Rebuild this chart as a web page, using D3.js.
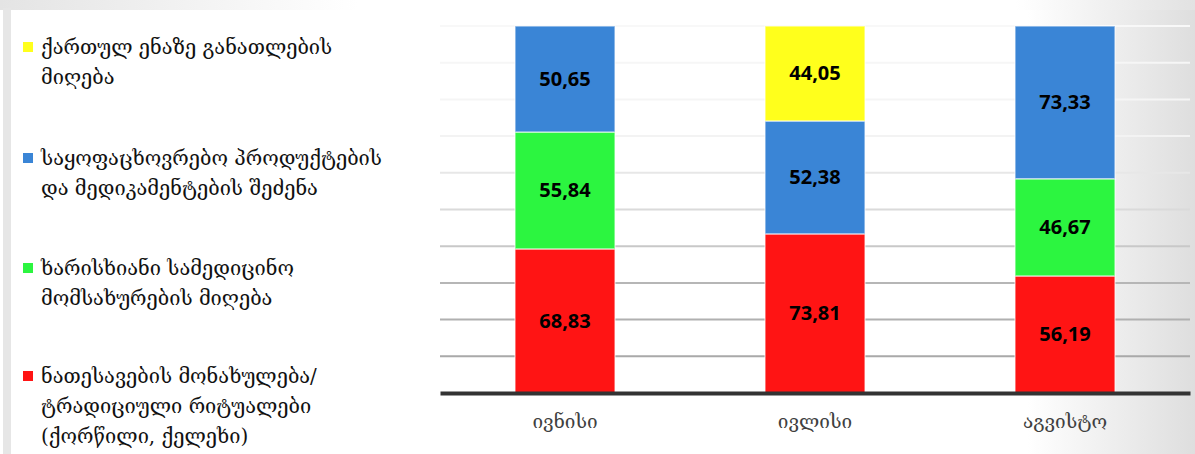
<!DOCTYPE html>
<html>
<head>
<meta charset="utf-8">
<script src="https://cdn.jsdelivr.net/npm/d3@7"></script>
<style>
  body { margin: 0; background: #fff; }
  svg { display: block; }
</style>
</head>
<body>
<svg id="chart"></svg>
<script>
// months on the x axis
var months = ["ივნისი", "ივლისი", "აგვისტო"];

// series, bottom to top of each stack
var seriesNames = [
    "ნათესავების მონახულება/ ტრადიციული რიტუალები (ქორწილი, ქელეხი)",
    "ხარისხიანი სამედიცინო მომსახურების მიღება",
    "საყოფაცხოვრებო პროდუქტების და მედიკამენტების შეძენა",
    "ქართულ ენაზე განათლების მიღება"
];
var redValues    = [68.83, 73.81, 56.19];
var greenValues  = [55.84, 0, 46.67];
var blueValues   = [50.65, 52.38, 73.33];
var yellowValues = [0, 44.05, 0];

// legend lines (wrapped as in the picture), top to bottom
var legendLines = [
    ["ქართულ ენაზე განათლების", "მიღება"],
    ["საყოფაცხოვრებო პროდუქტების", "და მედიკამენტების შეძენა"],
    ["ხარისხიანი სამედიცინო", "მომსახურების მიღება"],
    ["ნათესავების მონახულება/", "ტრადიციული რიტუალები", "(ქორწილი, ქელეხი)"]
];

var colors = ["#ff1414", "#2cf540", "#3a85d6", "#ffff1c"];
var keys = ["red", "green", "blue", "yellow"];

var georgianFont = "'DejaVu Serif', 'DejaVu Sans', serif";

var svgWidth = 1195, svgHeight = 454;

var svg = d3.select("#chart")
    .attr("width", svgWidth)
    .attr("height", svgHeight);

/*
    BACKGROUND
*/
var defs = svg.append("defs");
var bgGrad = defs.append("linearGradient").attr("id", "bgGrad")
    .attr("x1", "0").attr("x2", "1").attr("y1", "0").attr("y2", "0");
bgGrad.append("stop").attr("offset", "0.86").attr("stop-color", "#ffffff");
bgGrad.append("stop").attr("offset", "1").attr("stop-color", "#dedede");

var topGrad = defs.append("linearGradient").attr("id", "topGrad")
    .attr("x1", "0").attr("x2", "1").attr("y1", "0").attr("y2", "0");
topGrad.append("stop").attr("offset", "0").attr("stop-color", "#e4e4e4");
topGrad.append("stop").attr("offset", "0.3").attr("stop-color", "#ffffff");
topGrad.append("stop").attr("offset", "0.85").attr("stop-color", "#ffffff");
topGrad.append("stop").attr("offset", "1").attr("stop-color", "#e2e2e2");

svg.append("rect")
    .attr("width", svgWidth).attr("height", svgHeight)
    .attr("fill", "url(#bgGrad)");
svg.append("rect")
    .attr("width", svgWidth).attr("height", 10)
    .attr("fill", "url(#topGrad)");
svg.append("rect")
    .attr("x", 3).attr("y", 8).attr("width", 8).attr("height", svgHeight)
    .attr("fill", "#e6e6e6");

/*
    SCALES
*/
var margin = {left: 440, right: 5, top: 26, bottom: 61};
var plotW = svgWidth - margin.left - margin.right;
var plotH = svgHeight - margin.top - margin.bottom;

var xScale = d3.scaleBand()
    .domain(months)
    .range([0, plotW])
    .paddingInner(0.6)
    .paddingOuter(0.3);

var yScale = d3.scaleLinear()
    .domain([0, 1])
    .range([plotH, 0]);

var table = months.map(function(m, i) {
    return {month: m, red: redValues[i], green: greenValues[i],
            blue: blueValues[i], yellow: yellowValues[i]};
});

var stacked = d3.stack()
    .keys(keys)
    .offset(d3.stackOffsetExpand)(table);

var g = svg.append("g")
    .attr("transform", "translate(" + margin.left + "," + margin.top + ")");

// gridlines, fading out towards the top
var gridTicks = d3.range(1, 11).map(function(d) { return d / 10; });
var gridColor = d3.scaleLinear()
    .domain([0.1, 0.3, 0.5, 0.7, 1.0])
    .range(["#a9a9a9", "#b6b6b6", "#dadada", "#f3f3f3", "#f8f8f8"]);

g.selectAll(".grid")
    .data(gridTicks)
    .enter().append("line")
    .attr("x1", 0).attr("x2", plotW)
    .attr("y1", function(d) { return yScale(d); })
    .attr("y2", function(d) { return yScale(d); })
    .attr("stroke", function(d) { return gridColor(d); })
    .attr("stroke-width", 2);

/*
    BARS
*/
var fmt = d3.format(".2f");
var layers = g.selectAll(".layer")
    .data(stacked)
    .enter().append("g")
    .attr("fill", function(d, i) { return colors[i]; });

layers.selectAll("rect")
    .data(function(d) {
        return d.map(function(p) { return {p: p, key: d.key}; })
            .filter(function(o) { return o.p.data[o.key] > 0; });
    })
    .enter().append("rect")
    .attr("x", function(d) { return xScale(d.p.data.month); })
    .attr("width", xScale.bandwidth())
    .attr("y", function(d) { return yScale(d.p[1]); })
    .attr("height", function(d) { return yScale(d.p[0]) - yScale(d.p[1]); })
    .attr("stroke", "rgba(255,255,255,0.55)")
    .attr("stroke-width", 1.5);

layers.selectAll("text")
    .data(function(d) {
        return d.map(function(p) { return {p: p, key: d.key}; })
            .filter(function(o) { return o.p.data[o.key] > 0; });
    })
    .enter().append("text")
    .attr("x", function(d) { return xScale(d.p.data.month) + xScale.bandwidth() / 2; })
    .attr("y", function(d) { return yScale((d.p[0] + d.p[1]) / 2); })
    .attr("dy", "0.35em")
    .attr("text-anchor", "middle")
    .attr("fill", "#000")
    .style("font-family", "'Open Sans', sans-serif")
    .style("font-weight", "700")
    .style("font-size", "20px")
    .text(function(d) { return fmt(d.p.data[d.key]).replace(".", ","); });

/*
    AXIS
*/
var xAxis = d3.axisBottom(xScale).tickSize(0).tickPadding(22);
var ax = g.append("g")
    .attr("transform", "translate(0," + plotH + ")")
    .call(xAxis);
ax.select(".domain")
    .attr("stroke", "#333")
    .attr("stroke-width", 4);
ax.selectAll("text")
    .attr("fill", "#404040")
    .style("font-family", georgianFont)
    .style("font-size", "19px");

/*
    LEGEND
*/
var legendTop = [47, 158, 268, 376];
var legendColors = colors.slice().reverse();

var lg = svg.append("g");
legendLines.forEach(function(lines, i) {
    lg.append("rect")
        .attr("x", 23).attr("y", legendTop[i] - 5)
        .attr("width", 10).attr("height", 10)
        .attr("fill", legendColors[i]);
    lines.forEach(function(line, j) {
        lg.append("text")
            .attr("x", 41)
            .attr("y", legendTop[i] + j * 30)
            .attr("dy", "0.35em")
            .attr("fill", "#111")
            .style("font-family", georgianFont)
            .style("font-size", "20px")
            .text(line);
    });
});
</script>
</body>
</html>
